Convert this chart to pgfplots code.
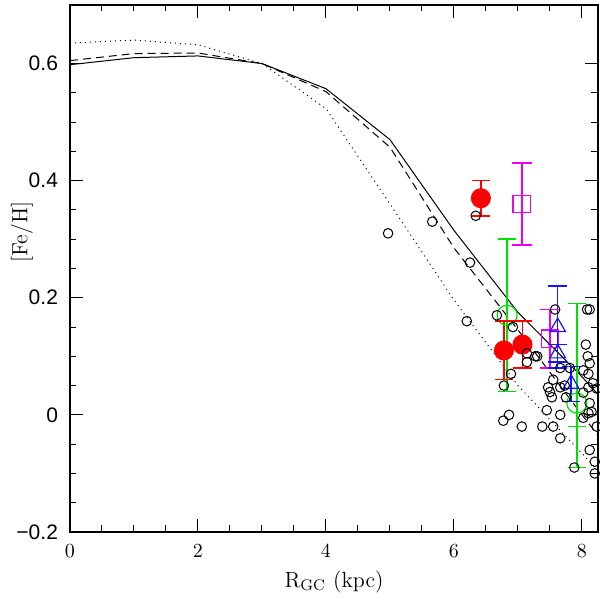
\documentclass[border=0pt]{standalone}
\usepackage{pgfplots}
\pgfplotsset{compat=1.18}
\usepackage{fontspec}
\newfontfamily\lsans{Liberation Sans}
\definecolor{mygreen}{RGB}{0,225,0}
\definecolor{mymag}{RGB}{235,0,235}
\definecolor{myblue}{RGB}{20,20,255}
\pgfplotsset{
  ebline/.style={draw=#1, line width=0.75pt, unbounded coords=jump, mark=none},
  ebcap/.style={draw=#1, only marks, mark=-, mark size=4.6pt, mark options={draw=#1, line width=0.75pt}},
}
\begin{document}
\begin{tikzpicture}
\begin{axis}[
  scale only axis, width=264pt, height=263.5pt,
  xmin=0, xmax=8.25, ymin=-0.2, ymax=0.7,
  xtick={0,2,4,6,8}, minor x tick num=3,
  ytick={-0.2,0,0.2,0.4,0.6}, yticklabels={−0.2,0,0.2,0.4,0.6}, minor y tick num=3,
  tick align=inside, xtick pos=both, ytick pos=both,
  major tick length=6.5pt, minor tick length=3.25pt,
  axis line style={line width=0.6pt},
  tick style={black, line width=0.5pt},
  yticklabel style={font=\lsans\fontsize{10.5}{12}\selectfont, xshift=-2.5pt},
  xticklabel style={font=\fontsize{10}{12}\selectfont, anchor=base, yshift=-13pt},
  xlabel={R\textsubscript{GC} (kpc)},
  xlabel style={font=\fontsize{11}{13}\selectfont, at={(axis description cs:0.5,0)}, anchor=base, yshift=-27.75pt},
  ylabel={\relax[Fe/H]},
  ylabel style={font=\fontsize{11}{13}\selectfont, at={(axis description cs:-0.091,0.569)}, anchor=center},
  clip=true,
]
% model curves
\addplot[black, line width=0.5pt] coordinates {(0,0.598) (1,0.61) (2,0.613) (3,0.60) (4,0.557) (5,0.47) (6,0.315) (7,0.175) (8,0.065) (8.25,0.035)};
\addplot[black, line width=0.5pt, dash pattern=on 4pt off 2.5pt] coordinates {(0,0.605) (1,0.617) (2,0.618) (3,0.60) (4,0.552) (5,0.457) (6,0.285) (7,0.145) (8,0.0) (8.25,-0.035)};
\addplot[black, line width=0.5pt, dash pattern=on 0.5pt off 2pt] coordinates {(0,0.635) (1,0.64) (2,0.632) (3,0.60) (4,0.523) (5,0.36) (6,0.196) (7,0.05) (8,-0.066) (8.25,-0.095)};
% green
\addplot[ebline=mygreen] coordinates {(6.83,0.04) (6.83,0.30) (6.83,nan) (7.92,-0.09) (7.92,0.19)};
\addplot[ebcap=mygreen] coordinates {(6.83,0.04) (6.83,0.30) (7.92,-0.09) (7.92,0.19) (7.92,-0.02)};
\addplot[only marks, mark=o, mark size=5pt, mark options={draw=mygreen, line width=0.6pt}]
  coordinates {(6.83,0.17) (7.92,0.02)};
% magenta
\addplot[ebline=mymag] coordinates {(7.06,0.29) (7.06,0.43) (7.06,nan) (7.5,0.08) (7.5,0.18)};
\addplot[ebcap=mymag, mark size=5pt] coordinates {(7.06,0.29) (7.06,0.43) (7.5,0.08) (7.5,0.18)};
\addplot[only marks, mark=square, mark size=4.4pt, mark options={draw=mymag, line width=0.6pt}]
  coordinates {(7.06,0.36) (7.5,0.13)};
% blue
\addplot[ebline=myblue] coordinates {(7.62,0.08) (7.62,0.22) (7.62,nan) (7.83,0.023) (7.83,0.083)};
\addplot[ebcap=myblue] coordinates {(7.62,0.08) (7.62,0.22) (7.62,0.09) (7.62,0.12) (7.83,0.023) (7.83,0.083)};
\addplot[only marks, mark=triangle, mark size=4.5pt, mark options={draw=myblue, line width=0.6pt}]
  coordinates {(7.62,0.15) (7.62,0.105) (7.83,0.053)};
% red
\addplot[ebline=red] coordinates {(6.42,0.34) (6.42,0.40) (6.42,nan) (6.78,0.06) (6.78,0.16) (6.78,nan) (7.07,0.08) (7.07,0.16)};
\addplot[ebcap=red] coordinates {(6.42,0.34) (6.42,0.40) (6.78,0.06) (6.78,0.16) (7.07,0.08) (7.07,0.16)};
\addplot[only marks, mark=*, mark size=4.8pt, mark options={fill=red, draw=red}]
  coordinates {(6.42,0.37) (6.78,0.11) (7.07,0.12)};
% open circles
\addplot[black, only marks, mark=o, mark size=2.4pt, mark options={line width=0.5pt}] coordinates {
(4.97,0.31) (5.66,0.33) (6.34,0.34) (6.25,0.26) (6.20,0.16) (6.67,0.17) (6.92,0.15)
(7.58,0.18) (8.08,0.18) (8.12,0.18)
(7.14,0.105) (7.14,0.09) (7.27,0.10) (7.30,0.10) (6.89,0.07) (6.78,0.05)
(8.06,0.12) (8.09,0.10) (7.66,0.08) (7.81,0.08) (8.02,0.076) (8.12,0.088) (8.10,0.07)
(7.55,0.06) (7.66,0.047) (7.47,0.047) (8.17,0.054) (7.73,0.05)
(7.50,0.039) (7.53,0.03) (7.75,0.03) (8.12,0.02) (8.02,0.038) (8.10,0.047) (8.23,0.045)
(8.02,-0.005) (8.10,0.003) (8.15,0.005) (7.45,0.008) (7.66,0.0) (6.77,-0.01) (6.86,0.0)
(7.06,-0.02) (7.38,-0.02) (7.55,-0.02) (7.66,-0.04) (8.23,-0.02)
(8.12,-0.06) (8.20,-0.08) (7.88,-0.09) (8.20,-0.10)
};
\end{axis}
\pgfresetboundingbox
\path ([shift={(-35pt,-34pt)}]current axis.south west) rectangle ([shift={(1pt,2.5pt)}]current axis.north east);
\end{tikzpicture}
\end{document}
